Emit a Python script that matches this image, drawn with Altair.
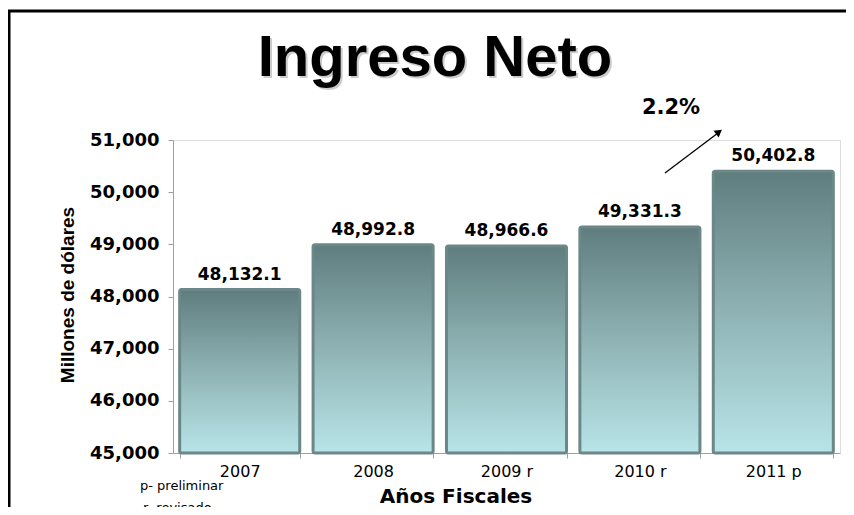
import altair as alt
import pandas as pd

years = ["2007", "2008", "2009 r", "2010 r", "2011 p"]
values = [48132.1, 48992.8, 48966.6, 49331.3, 50402.8]
y_ticks = [45000, 46000, 47000, 48000, 49000, 50000, 51000]
base_value = 45000
title_text = "Ingreso Neto"
growth_text = "2.2%"
x_title = "Años Fiscales"
y_title = "Millones de dólares"
notes = ["p- preliminar", "r- revisado"]

W, H = 667, 313
PL, PT, PR, PB = 165, 132, 6, 54

df = pd.DataFrame({"year": years, "value": values, "base": [base_value] * len(years)})
one = pd.DataFrame({"k": [0]})

FONT = "DejaVu Sans"

xenc = alt.X("year:N", sort=years, title=None,
             scale=alt.Scale(paddingInner=0.1, paddingOuter=0.05),
             axis=alt.Axis(labelAngle=0, tickBand="extent", labelFont=FONT,
                           labelFontSize=16, labelColor="black", labelPadding=5,
                           tickSize=5, tickColor="#a0a0a0", domainColor="#a0a0a0"))
yscale = alt.Scale(domain=[45000, 51000], zero=False, nice=False)
yenc = alt.Y("value:Q", scale=yscale, title=None,
             axis=alt.Axis(values=y_ticks, format=",d", labelFont=FONT, labelFontSize=18,
                           labelFontWeight="bold", labelColor="black", labelPadding=9,
                           tickSize=5, tickColor="#a0a0a0", domainColor="#a0a0a0", grid=False))

gradient = alt.Gradient(gradient="linear",
                        stops=[alt.GradientStop(color="#5f7d7e", offset=0),
                               alt.GradientStop(color="#8fb3b5", offset=0.5),
                               alt.GradientStop(color="#b8e4e8", offset=1)],
                        x1=0, x2=0, y1=0, y2=1)

bars = alt.Chart(df).mark_bar(color=gradient, stroke="#6b8788", strokeWidth=3,
                              cornerRadius=2).encode(x=xenc, y=yenc, y2="base")

labels = alt.Chart(df).mark_text(font=FONT, fontSize=17, fontWeight="bold", color="black",
                                 baseline="bottom", dy=-6).encode(
    x=alt.X("year:N", sort=years), y=alt.Y("value:Q", scale=yscale),
    text=alt.Text("value:Q", format=",.1f"))

def txt(text, x, y, size, weight="bold", font=FONT, color="black", align="center", angle=0, opacity=1):
    d = pd.DataFrame({"t": [text]})
    kw = dict(font=font, fontSize=size, fontWeight=weight, color=color, align=align,
              baseline="alphabetic", opacity=opacity)
    if angle:
        kw["angle"] = angle
    return alt.Chart(d).mark_text(**kw).encode(x=alt.value(x), y=alt.value(y), text="t:N")

title_shadow = txt(title_text, 264, -62, 58, font="Liberation Sans", color="#9a9a9a", opacity=0.5)
title = txt(title_text, 262, -64, 58, font="Liberation Sans")
growth = txt(growth_text, 498, -26, 21)
ytitle = txt(y_title, -99, 155, 19, font="Liberation Sans", angle=270)
xtitle = txt(x_title, 283, H + 50, 20)
note1 = txt(notes[0], -33, H + 37, 13, weight="normal", align="left")
note2 = txt(notes[1], -30, H + 59, 13, weight="normal", align="left")

arrow_line = alt.Chart(one).mark_rule(color="black", strokeWidth=1.3).encode(
    x=alt.value(492), y=alt.value(33), x2=alt.value(545), y2=alt.value(-7))
arrow_head = alt.Chart(one).mark_point(shape="triangle-up", filled=True, color="black",
                                       size=70, angle=53, opacity=1).encode(
    x=alt.value(546), y=alt.value(-8))

border_top = alt.Chart(one).mark_rule(color="black", strokeWidth=3).encode(
    x=alt.value(-165), x2=alt.value(W + PR), y=alt.value(-129))
border_left = alt.Chart(one).mark_rule(color="black", strokeWidth=3).encode(
    x=alt.value(-164), y=alt.value(-130), y2=alt.value(H + PB))

chart = alt.layer(bars, labels, title_shadow, title, growth, ytitle, xtitle, note1, note2,
                  arrow_line, arrow_head, border_top, border_left).properties(
    width=W, height=H,
    autosize=alt.AutoSizeParams(type="none"),
    padding={"left": PL, "top": PT, "right": PR, "bottom": PB},
).configure_view(stroke=None).configure(background="white")

chart.save("out.html", embed_options={"renderer": "svg", "actions": False})
